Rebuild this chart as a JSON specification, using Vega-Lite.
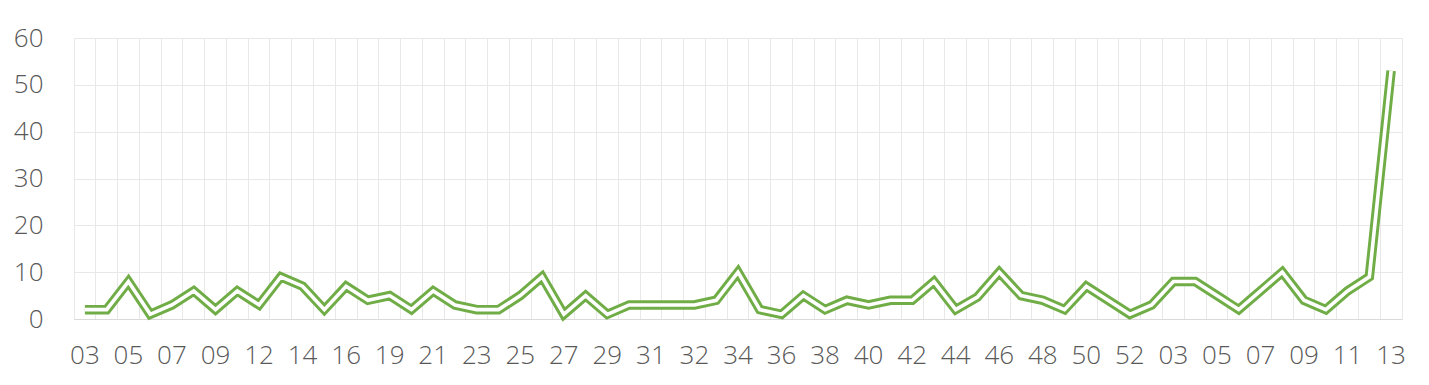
{
  "$schema": "https://vega.github.io/schema/vega-lite/v6.json",
  "width": 1328,
  "height": 281,
  "autosize": "none",
  "padding": {"left": 74, "top": 38, "right": 27, "bottom": 66},
  "background": "white",
  "config": {"view": {"stroke": "#E8E8E8", "strokeWidth": 1}, "font": "Open Sans"},
  "data": {
    "values": [
      {"week": "2019-W03", "count": 2},
      {"week": "2019-W04", "count": 2},
      {"week": "2019-W05", "count": 8},
      {"week": "2019-W06", "count": 1},
      {"week": "2019-W07", "count": 3},
      {"week": "2019-W08", "count": 6},
      {"week": "2019-W09", "count": 2},
      {"week": "2019-W10", "count": 6},
      {"week": "2019-W12", "count": 3},
      {"week": "2019-W13", "count": 9},
      {"week": "2019-W14", "count": 7},
      {"week": "2019-W15", "count": 2},
      {"week": "2019-W16", "count": 7},
      {"week": "2019-W17", "count": 4},
      {"week": "2019-W19", "count": 5},
      {"week": "2019-W20", "count": 2},
      {"week": "2019-W21", "count": 6},
      {"week": "2019-W22", "count": 3},
      {"week": "2019-W23", "count": 2},
      {"week": "2019-W24", "count": 2},
      {"week": "2019-W25", "count": 5},
      {"week": "2019-W26", "count": 9},
      {"week": "2019-W27", "count": 1},
      {"week": "2019-W28", "count": 5},
      {"week": "2019-W29", "count": 1},
      {"week": "2019-W30", "count": 3},
      {"week": "2019-W31", "count": 3},
      {"week": "2019-W31b", "count": 3},
      {"week": "2019-W32", "count": 3},
      {"week": "2019-W33", "count": 4},
      {"week": "2019-W34", "count": 10},
      {"week": "2019-W35", "count": 2},
      {"week": "2019-W36", "count": 1},
      {"week": "2019-W37", "count": 5},
      {"week": "2019-W38", "count": 2},
      {"week": "2019-W39", "count": 4},
      {"week": "2019-W40", "count": 3},
      {"week": "2019-W41", "count": 4},
      {"week": "2019-W42", "count": 4},
      {"week": "2019-W43", "count": 8},
      {"week": "2019-W44", "count": 2},
      {"week": "2019-W45", "count": 4.7},
      {"week": "2019-W46", "count": 10},
      {"week": "2019-W47", "count": 5},
      {"week": "2019-W48", "count": 4},
      {"week": "2019-W49", "count": 2},
      {"week": "2019-W50", "count": 7},
      {"week": "2019-W51", "count": 4},
      {"week": "2019-W52", "count": 1},
      {"week": "2020-W01", "count": 3},
      {"week": "2020-W03", "count": 8},
      {"week": "2020-W04", "count": 8},
      {"week": "2020-W05", "count": 5},
      {"week": "2020-W06", "count": 2},
      {"week": "2020-W07", "count": 6},
      {"week": "2020-W08", "count": 10},
      {"week": "2020-W09", "count": 4},
      {"week": "2020-W10", "count": 2},
      {"week": "2020-W11", "count": 6},
      {"week": "2020-W12", "count": 9},
      {"week": "2020-W13", "count": 53}
    ]
  },
  "encoding": {
    "x": {
      "field": "week",
      "type": "ordinal",
      "sort": null,
      "scale": {"type": "band", "paddingInner": 0, "paddingOuter": 0},
      "axis": {
        "title": null,
        "bandPosition": 0,
        "grid": true,
        "gridColor": "#E8E8E8",
        "gridWidth": 1,
        "ticks": false,
        "domainColor": "#D9D9D9",
        "domainWidth": 1,
        "labelAngle": 0,
        "labelFont": "Open Sans",
        "labelFontWeight": 300,
        "labelFontSize": 26,
        "labelColor": "#595959",
        "labelPadding": 23,
        "labelOverlap": false,
        "labelExpr": "round(datum.index * 60) % 2 === 0 ? slice(datum.value, 6, 8) : ''"
      }
    },
    "y": {
      "field": "count",
      "type": "quantitative",
      "scale": {"domain": [0, 60], "nice": false},
      "axis": {
        "title": null,
        "values": [0, 10, 20, 30, 40, 50, 60],
        "grid": true,
        "gridColor": "#E8E8E8",
        "gridWidth": 1,
        "domain": false,
        "ticks": false,
        "labelFont": "Open Sans",
        "labelFontWeight": 300,
        "labelFontSize": 26,
        "labelColor": "#595959",
        "labelPadding": 31
      }
    }
  },
  "layer": [
    {"mark": {"type": "line", "color": "#70AD47", "strokeWidth": 9.5}},
    {"mark": {"type": "line", "color": "#FFFFFF", "strokeWidth": 3.6}}
  ]
}
